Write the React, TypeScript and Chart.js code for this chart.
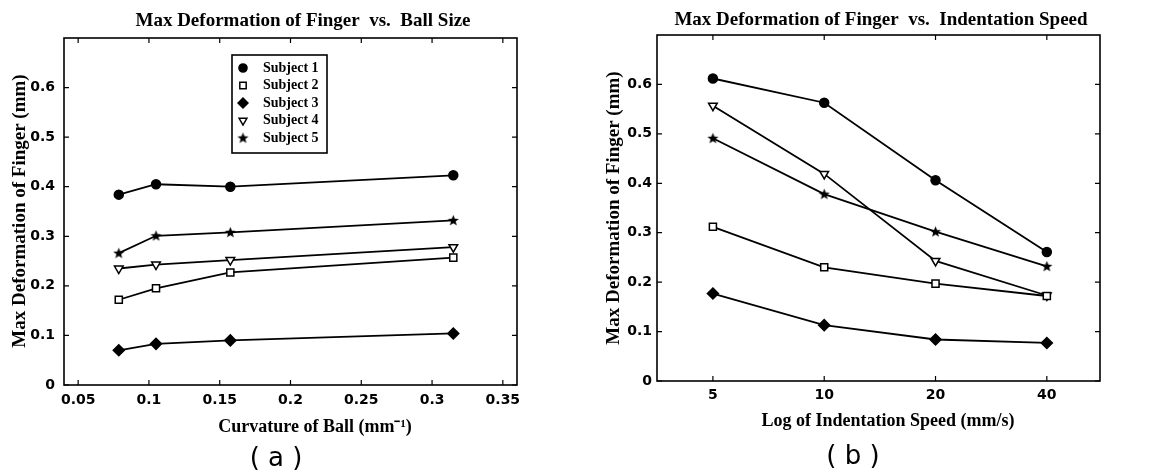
import React, { useEffect, useRef } from 'react';
import { Chart, registerables } from 'chart.js';
import { drawPoint } from 'chart.js/helpers';

Chart.register(...registerables);

// ---- data -------------------------------------------------------------

const subjects = ['Subject 1', 'Subject 2', 'Subject 3', 'Subject 4', 'Subject 5'];

// (a) deformation against ball curvature (1/mm)
const ballCurvature = [0.0787, 0.105, 0.1575, 0.315];
const ballSubject1 = [0.384, 0.405, 0.4, 0.423];
const ballSubject2 = [0.172, 0.195, 0.227, 0.257];
const ballSubject3 = [0.07, 0.083, 0.09, 0.104];
const ballSubject4 = [0.235, 0.243, 0.252, 0.278];
const ballSubject5 = [0.266, 0.301, 0.308, 0.332];
const ballTicks = [0.05, 0.1, 0.15, 0.2, 0.25, 0.3, 0.35];
const ballTickLabels = ['0.05', '0.1', '0.15', '0.2', '0.25', '0.3', '0.35'];

// (b) deformation against indentation speed (mm/s, log axis)
const speeds = [5, 10, 20, 40];
const speedSubject1 = [0.612, 0.563, 0.406, 0.261];
const speedSubject2 = [0.312, 0.23, 0.197, 0.172];
const speedSubject3 = [0.177, 0.113, 0.084, 0.077];
const speedSubject4 = [0.557, 0.419, 0.243, 0.173];
const speedSubject5 = [0.491, 0.378, 0.302, 0.232];
const speedTickLabels = ['5', '10', '20', '40'];

const deformTicks = [0, 0.1, 0.2, 0.3, 0.4, 0.5, 0.6];
const deformTickLabels = ['0', '0.1', '0.2', '0.3', '0.4', '0.5', '0.6'];

// ---- styling ----------------------------------------------------------

const PANEL_W = 584;
const PANEL_H = 474;
const SERIF = '"Liberation Serif", "Times New Roman", serif';
const TICK_FONT = { family: '"DejaVu Sans", sans-serif', weight: 'bold' as const, size: 14 };

function makeStar(): HTMLCanvasElement {
  const c = document.createElement('canvas');
  c.width = 13;
  c.height = 13;
  const g = c.getContext('2d')!;
  g.fillStyle = '#000';
  g.beginPath();
  for (let i = 0; i < 10; i++) {
    const r = i % 2 === 0 ? 5.8 : 2.5;
    const a = -Math.PI / 2 + (i * Math.PI) / 5;
    const px = 6.5 + r * Math.cos(a);
    const py = 6.8 + r * Math.sin(a);
    if (i === 0) g.moveTo(px, py);
    else g.lineTo(px, py);
  }
  g.closePath();
  g.fill();
  return c;
}

type Marker = { pointStyle: any; radius: number; fill: string; rotation: number };

function markers(): Marker[] {
  return [
    { pointStyle: 'circle', radius: 4.5, fill: '#000', rotation: 0 },
    { pointStyle: 'rect', radius: 5, fill: '#fff', rotation: 0 },
    { pointStyle: 'rectRot', radius: 5.5, fill: '#000', rotation: 0 },
    { pointStyle: 'triangle', radius: 5, fill: '#fff', rotation: 180 },
    { pointStyle: makeStar(), radius: 6, fill: '#000', rotation: 0 },
  ];
}

type TextItem = { text: string; x: number; y: number; font: string; rotate?: number };
type LegendBox = { left: number; top: number; right: number; bottom: number; firstY: number; step: number; markerX: number; textX: number };

// Boxed frame with inward tick marks, free-standing texts and an inset legend
function figurePlugin(texts: TextItem[], legend: LegendBox | null, marks: Marker[]) {
  return {
    id: 'figureDecor',
    afterDatasetsDraw(chart: any) {
      const { ctx, chartArea: a, scales } = chart;
      ctx.save();
      ctx.strokeStyle = '#000';
      ctx.lineWidth = 1.6;
      ctx.strokeRect(a.left, a.top, a.right - a.left, a.bottom - a.top);
      ctx.lineWidth = 1.2;
      const len = 5;
      ctx.beginPath();
      scales.x.ticks.forEach((t: any) => {
        const px = scales.x.getPixelForValue(t.value);
        ctx.moveTo(px, a.bottom);
        ctx.lineTo(px, a.bottom - len);
        ctx.moveTo(px, a.top);
        ctx.lineTo(px, a.top + len);
      });
      scales.y.ticks.forEach((t: any) => {
        const py = scales.y.getPixelForValue(t.value);
        ctx.moveTo(a.left, py);
        ctx.lineTo(a.left + len, py);
        ctx.moveTo(a.right, py);
        ctx.lineTo(a.right - len, py);
      });
      ctx.stroke();
      ctx.restore();
    },
    afterDraw(chart: any) {
      const { ctx } = chart;
      ctx.save();
      ctx.fillStyle = '#000';
      ctx.textAlign = 'center';
      ctx.textBaseline = 'middle';
      texts.forEach((t) => {
        ctx.save();
        ctx.font = t.font;
        ctx.translate(t.x, t.y);
        if (t.rotate) ctx.rotate((t.rotate * Math.PI) / 180);
        ctx.fillText(t.text, 0, 0);
        ctx.restore();
      });
      if (legend) {
        ctx.fillStyle = '#fff';
        ctx.fillRect(legend.left, legend.top, legend.right - legend.left, legend.bottom - legend.top);
        ctx.strokeStyle = '#000';
        ctx.lineWidth = 1.6;
        ctx.strokeRect(legend.left, legend.top, legend.right - legend.left, legend.bottom - legend.top);
        chart.data.datasets.forEach((ds: any, i: number) => {
          const m = marks[i];
          const y = legend.firstY + i * legend.step;
          ctx.fillStyle = m.fill;
          ctx.strokeStyle = '#000';
          ctx.lineWidth = 1.5;
          drawPoint(ctx, { pointStyle: m.pointStyle, rotation: m.rotation, radius: m.radius * 0.9, borderWidth: 1.5 } as any, legend.markerX, y);
          ctx.fillStyle = '#000';
          ctx.font = `bold 14px ${SERIF}`;
          ctx.textAlign = 'left';
          ctx.textBaseline = 'middle';
          ctx.fillText(ds.label, legend.textX, y);
        });
      }
      ctx.restore();
    },
  };
}

type PanelSpec = {
  xs: number[];
  series: number[][];
  xType: 'linear' | 'logarithmic';
  xMin: number;
  xMax: number;
  xTicks: number[];
  xTickLabels: string[];
  area: { left: number; right: number; top: number; bottom: number };
  xLabelPad: number;
  yLabelPad: number;
  texts: TextItem[];
  legend: LegendBox | null;
};

function buildChart(canvas: HTMLCanvasElement, spec: PanelSpec) {
  const marks = markers();
  const datasets = spec.series.map((vals, i) => ({
    label: subjects[i],
    data: spec.xs.map((x, j) => ({ x, y: vals[j] })),
    borderColor: '#000',
    borderWidth: 1.8,
    backgroundColor: marks[i].fill,
    pointStyle: marks[i].pointStyle,
    pointRadius: marks[i].radius,
    pointRotation: marks[i].rotation,
    pointBackgroundColor: marks[i].fill,
    pointBorderColor: '#000',
    pointBorderWidth: 1.5,
    fill: false,
    tension: 0,
  }));
  const { area } = spec;
  return new Chart(canvas, {
    type: 'line',
    data: { datasets },
    options: {
      responsive: false,
      animation: false,
      devicePixelRatio: 1,
      layout: { padding: { top: area.top, left: 0, right: PANEL_W - area.right, bottom: 0 } },
      plugins: { legend: { display: false }, tooltip: { enabled: false }, title: { display: false } },
      scales: {
        x: {
          type: spec.xType,
          min: spec.xMin,
          max: spec.xMax,
          afterBuildTicks: (s: any) => {
            s.ticks = spec.xTicks.map((v) => ({ value: v }));
          },
          afterFit: (s: any) => {
            s.height = PANEL_H - area.bottom;
          },
          grid: { display: false, drawTicks: false },
          border: { display: false },
          ticks: {
            autoSkip: false,
            maxRotation: 0,
            padding: spec.xLabelPad,
            color: '#000',
            font: TICK_FONT,
            callback: (_v: any, i: number) => spec.xTickLabels[i],
          },
        },
        y: {
          type: 'linear',
          min: 0,
          max: 0.7,
          afterBuildTicks: (s: any) => {
            s.ticks = deformTicks.map((v) => ({ value: v }));
          },
          afterFit: (s: any) => {
            s.width = area.left;
          },
          grid: { display: false, drawTicks: false },
          border: { display: false },
          ticks: {
            autoSkip: false,
            padding: spec.yLabelPad,
            color: '#000',
            font: TICK_FONT,
            callback: (_v: any, i: number) => deformTickLabels[i],
          },
        },
      },
    } as any,
    plugins: [figurePlugin(spec.texts, spec.legend, marks)],
  });
}

const titleFont = `bold 19px ${SERIF}`;
const axisFont = `bold 18px ${SERIF}`;
const captionFont = '26px "DejaVu Sans", sans-serif';

function Panel({ spec, left }: { spec: PanelSpec; left: number }) {
  const ref = useRef<HTMLCanvasElement>(null);
  useEffect(() => {
    const chart = buildChart(ref.current!, spec);
    return () => chart.destroy();
  }, []);
  return (
    <canvas
      ref={ref}
      width={PANEL_W}
      height={PANEL_H}
      style={{ position: 'absolute', left, top: 0, width: PANEL_W, height: PANEL_H }}
    />
  );
}

const ballPanel: PanelSpec = {
  xs: ballCurvature,
  series: [ballSubject1, ballSubject2, ballSubject3, ballSubject4, ballSubject5],
  xType: 'linear',
  xMin: 0.04,
  xMax: 0.36,
  xTicks: ballTicks,
  xTickLabels: ballTickLabels,
  area: { left: 64, right: 517, top: 38, bottom: 385 },
  xLabelPad: 7,
  yLabelPad: 9,
  texts: [
    { text: 'Max Deformation of Finger  vs.  Ball Size', x: 303, y: 21, font: titleFont },
    { text: 'Max Deformation of Finger (mm)', x: 20, y: 211, font: titleFont, rotate: -90 },
    { text: 'Curvature of Ball (mm\u207B\u00B9)', x: 315, y: 427, font: axisFont },
    { text: '( a )', x: 276, y: 459, font: captionFont },
  ],
  legend: { left: 232, top: 55, right: 327, bottom: 153, firstY: 68, step: 17.5, markerX: 243, textX: 263 },
};

const speedPanel: PanelSpec = {
  xs: speeds,
  series: [speedSubject1, speedSubject2, speedSubject3, speedSubject4, speedSubject5],
  xType: 'logarithmic',
  xMin: 3.53,
  xMax: 55.7,
  xTicks: speeds,
  xTickLabels: speedTickLabels,
  area: { left: 73, right: 516, top: 35, bottom: 381 },
  xLabelPad: 6,
  yLabelPad: 5,
  texts: [
    { text: 'Max Deformation of Finger  vs.  Indentation Speed', x: 297, y: 20, font: titleFont },
    { text: 'Max Deformation of Finger (mm)', x: 30, y: 208, font: titleFont, rotate: -90 },
    { text: 'Log of Indentation Speed (mm/s)', x: 304, y: 421, font: axisFont },
    { text: '( b )', x: 269, y: 457, font: captionFont },
  ],
  legend: null,
};

export default function App() {
  return (
    <div style={{ position: 'absolute', left: 0, top: 0, width: 1168, height: 474, background: '#fff' }}>
      <Panel spec={ballPanel} left={0} />
      <Panel spec={speedPanel} left={PANEL_W} />
    </div>
  );
}
